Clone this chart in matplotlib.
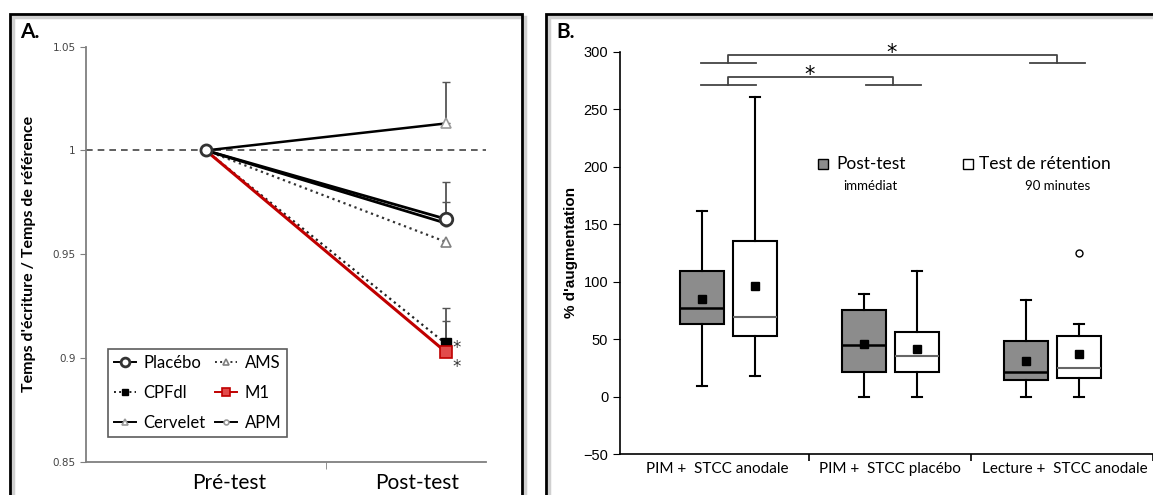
import matplotlib.pyplot as plt
from matplotlib.patches import Rectangle

# ---- data, panel A ----
conditions = ['Placébo', 'CPFdl', 'Cervelet', 'AMS', 'M1', 'APM']
pre_values = [1.0, 1.0, 1.0, 1.0, 1.0, 1.0]
post_values = [0.967, 0.907, 1.013, 0.956, 0.903, 0.965]
post_errors = [0.018, 0.017, 0.020, 0.0, 0.015, 0.010]
sessions = ['Pré-test', 'Post-test']

# ---- data, panel B ----
groups = ['PIM +  STCC anodale', 'PIM +  STCC placébo', 'Lecture +  STCC anodale']
post_whislo = [9, 0, 0]
post_q1 = [63.5, 21, 14.5]
post_med = [77, 44.5, 21]
post_q3 = [109, 75, 48]
post_whishi = [161, 89.6, 84]
post_mean = [85, 46, 31]
ret_whislo = [18, 0, 0]
ret_q1 = [53, 21, 16]
ret_med = [69, 35.5, 25]
ret_q3 = [135, 56, 53]
ret_whishi = [261, 109, 63]
ret_mean = [96, 41, 37]
ret_fliers = [[], [], [125]]

W, H = 1153, 495
fig = plt.figure(figsize=(W / 100, H / 100), dpi=100)


def fx(px):
    return px / W


def fy(py):
    return 1 - py / H


# panel frames
for x0, x1 in [(10, 522), (546, 1160)]:
    fig.patches.append(Rectangle((fx(x0 + 3), fy(520)), fx(x1 - x0), fy(17) - fy(520),
                                 transform=fig.transFigure, fill=False,
                                 edgecolor='#d0d0d0', lw=2.5, zorder=0))
    fig.patches.append(Rectangle((fx(x0), fy(520)), fx(x1 - x0), fy(14) - fy(520),
                                 transform=fig.transFigure, fill=False,
                                 edgecolor='black', lw=2, zorder=1))

fig.text(fx(20), fy(32), 'A.', fontsize=15, fontweight='bold', family='Lato', va='center')
fig.text(fx(556), fy(32), 'B.', fontsize=15, fontweight='bold', family='Lato', va='center')

# ================= panel A =================
axA = fig.add_axes([fx(86), fy(461.7), fx(485.5 - 86), (461.7 - 46.7) / H])
axA.set_xlim(0, 2)
axA.set_ylim(0.85, 1.05)
for s in ['top', 'right']:
    axA.spines[s].set_visible(False)
for s in ['left', 'bottom']:
    axA.spines[s].set_color('#7f7f7f')
    axA.spines[s].set_linewidth(1.3)

axA.axhline(1, color='#444444', lw=1.2, ls=(0, (4, 3)), zorder=1)

xpos = [0.6, 1.8]
styles = {
    'Placébo': dict(color='black', lw=2, marker='o', ms=9, mfc='white', mec='#333333', mew=2),
    'CPFdl': dict(color='#222222', lw=1.6, ls=':', marker='s', ms=7, mfc='black', mec='black'),
    'Cervelet': dict(color='black', lw=1.8, marker='^', ms=7, mfc='white', mec='#9a9a9a', mew=1.2),
    'AMS': dict(color='#333333', lw=1.6, ls=':', marker='^', ms=7, mfc='white', mec='#808080', mew=1.2),
    'M1': dict(color='#c00000', lw=2.2, marker='s', ms=8, mfc='#e24b4b', mec='#c00000', mew=1.2),
    'APM': dict(color='black', lw=2, marker='o', ms=5, mfc='white', mec='#999999', mew=1.2),
}
draw_order = ['AMS', 'CPFdl', 'APM', 'Placébo', 'Cervelet', 'M1']
handles = {}
for name in draw_order:
    i = conditions.index(name)
    ln, = axA.plot(xpos, [pre_values[i], post_values[i]], label=name, markevery=[1],
                   zorder=3 + draw_order.index(name), **styles[name])
    handles[name] = ln
    if post_errors[i] > 0:
        axA.errorbar([xpos[1]], [post_values[i]], yerr=[[0], [post_errors[i]]],
                     fmt='none', ecolor='#555555', elinewidth=1.3, capsize=3, zorder=2)

# common starting point (placebo marker drawn on top)
ip = conditions.index('Placébo')
axA.plot([xpos[0]], [pre_values[ip]], ls='none', marker='o', ms=8, mfc='white',
         mec='#333333', mew=2, zorder=20)

axA.text(1.855, 0.9046, '*', fontsize=12, color='#333333', ha='center', va='center')
axA.text(1.855, 0.8954, '*', fontsize=12, color='#333333', ha='center', va='center')

axA.set_yticks([0.85, 0.9, 0.95, 1.0, 1.05])
axA.set_yticklabels(['0.85', '0.9', '0.95', '1', '1.05'])
axA.tick_params(axis='y', labelsize=7.5, labelcolor='#444444', color='#7f7f7f', length=4)
axA.set_xticks([0.715, 1.66])
axA.set_xticklabels(sessions, family='Lato', fontsize=15)
axA.tick_params(axis='x', length=0, pad=8)
axA.set_xticks([1.2], minor=True)
axA.tick_params(axis='x', which='minor', length=5, color='#7f7f7f')

axA.set_ylabel("Temps d'écriture / Temps de référence", family='Lato', fontweight='bold',
               fontsize=11.5, labelpad=12)

leg = axA.legend([handles[c] for c in conditions], conditions, ncol=2, loc='lower left',
                 bbox_to_anchor=(0.035, 0.04), prop={'family': 'Lato', 'size': 12},
                 frameon=True, fancybox=False, edgecolor='#333333', handlelength=1.3,
                 columnspacing=0.6, labelspacing=0.85, handletextpad=0.45, borderpad=0.35,
                 markerscale=0.7)
leg.get_frame().set_linewidth(1.2)
for h in leg.get_lines():
    h.set_linewidth(1.4)

# ================= panel B =================
axB = fig.add_axes([fx(620), fy(454), fx(1153 - 620), (454 - 51.7) / H])
axB.set_xlim(0.332, 3.622)
axB.set_ylim(-50, 300)
for s in ['top', 'right']:
    axB.spines[s].set_visible(False)
for s in ['left', 'bottom']:
    axB.spines[s].set_linewidth(1.2)

off, bw = 0.164, 0.272
post_stats, ret_stats = [], []
for i in range(3):
    post_stats.append(dict(whislo=post_whislo[i], q1=post_q1[i], med=post_med[i], q3=post_q3[i],
                           whishi=post_whishi[i], mean=post_mean[i], fliers=[]))
    ret_stats.append(dict(whislo=ret_whislo[i], q1=ret_q1[i], med=ret_med[i], q3=ret_q3[i],
                          whishi=ret_whishi[i], mean=ret_mean[i], fliers=ret_fliers[i]))

common = dict(widths=bw, patch_artist=True, showmeans=True, capwidths=0.06,
              meanprops=dict(marker='s', markerfacecolor='black', markeredgecolor='black', markersize=6),
              whiskerprops=dict(color='black', lw=1.5),
              capprops=dict(color='black', lw=1.5),
              flierprops=dict(marker='o', markerfacecolor='white', markeredgecolor='black',
                              markersize=5))
axB.bxp(post_stats, positions=[g - off + 1 for g in range(3)],
        boxprops=dict(facecolor='#8c8c8c', edgecolor='black', lw=1.5),
        medianprops=dict(color='black', lw=1.8), **common)
axB.bxp(ret_stats, positions=[g + off + 1 for g in range(3)],
        boxprops=dict(facecolor='white', edgecolor='black', lw=1.5),
        medianprops=dict(color='#666666', lw=1.5), **common)

axB.set_yticks([-50, 0, 50, 100, 150, 200, 250, 300])
axB.tick_params(axis='y', labelsize=10.5, length=5)
for t in axB.get_yticklabels():
    t.set_family('Liberation Sans')
axB.set_xticks([0.93, 2.0, 3.08])
axB.set_xticklabels(groups, family='Lato', fontsize=11)
axB.tick_params(axis='x', length=0, pad=6)
axB.set_xticks([1.5, 2.5, 3.62], minor=True)
axB.tick_params(axis='x', which='minor', length=5, width=1.2)
axB.set_xlim(0.332, 3.622)

axB.set_ylabel("% d'augmentation", family='Liberation Sans', fontweight='bold', fontsize=11,
               labelpad=4)

# significance brackets
bc = '#444444'
kw = dict(color=bc, lw=1.3, clip_on=False)
axB.plot([1.0, 1.0, 3.03, 3.03], [290, 297, 297, 290], **kw)
axB.plot([0.83, 1.17], [290, 290], **kw)
axB.plot([2.86, 3.20], [290, 290], **kw)
axB.plot([1.0, 1.0, 2.02, 2.02], [271, 278, 278, 271], **kw)
axB.plot([0.83, 1.17], [271, 271], **kw)
axB.plot([1.85, 2.19], [271, 271], **kw)
axB.text(2.01, 299, '*', fontsize=15, ha='center', va='center', clip_on=False)
axB.text(1.50, 280, '*', fontsize=15, ha='center', va='center', clip_on=False)

# legend of panel B
axB.plot([1.585], [202.6], marker='s', ms=7, mfc='#8c8c8c', mec='black', mew=1, ls='none')
axB.text(1.665, 202.6, 'Post-test', family='Lato', fontsize=12.5, va='center', ha='left')
axB.text(1.875, 183.5, 'immédiat', family='Lato', fontsize=9.5, va='center', ha='center')
axB.plot([2.48], [202.6], marker='s', ms=7, mfc='white', mec='black', mew=1, ls='none')
axB.text(2.545, 202.6, 'Test de rétention', family='Lato', fontsize=12.5, va='center', ha='left')
axB.text(3.035, 183.5, '90 minutes', family='Lato', fontsize=9.5, va='center', ha='center')

fig.savefig('out.png', dpi=100)
